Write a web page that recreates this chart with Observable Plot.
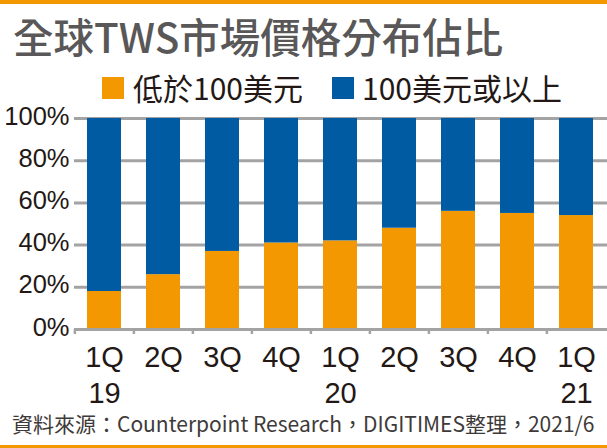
<!DOCTYPE html>
<html>
<head>
<meta charset="utf-8">
<script src="https://cdn.jsdelivr.net/npm/d3@7"></script>
<script src="https://cdn.jsdelivr.net/npm/@observablehq/plot@0.6"></script>
<style>
  html, body { margin: 0; padding: 0; background: #fff; }
  #wrap { position: relative; width: 607px; height: 448px; overflow: hidden; background: #fff; }
  .bar { position: absolute; left: 0; width: 607px; height: 3.5px; background: #F39800; }
  #title { position: absolute; left: 13px; top: 15px; font-family: "Noto Sans CJK TC", "Noto Sans", sans-serif; font-weight: 500; font-size: 40.5px; line-height: 41px; color: #595757; white-space: nowrap; }
  .lg { position: absolute; top: 72px; font-family: "Noto Sans CJK TC", "Liberation Sans", sans-serif; font-size: 30px; line-height: 30px; color: #231815; white-space: nowrap; }
  .sw { position: absolute; top: 77px; width: 22px; height: 22px; }
  #chart { position: absolute; left: 0; top: 108px; }
  #source { position: absolute; left: 12px; top: 411px; font-family: "Noto Sans CJK TC", "Liberation Sans", sans-serif; font-size: 21px; line-height: 25px; color: #3e3a39; white-space: nowrap; }
</style>
</head>
<body>
<div id="wrap">
  <div class="bar" style="top:0"></div>
  <div id="title">全球TWS市場價格分布佔比</div>
  <div id="legend"></div>
  <div id="chart"></div>
  <div id="source">資料來源：Counterpoint Research，DIGITIMES整理，2021/6</div>
  <div class="bar" style="top:444.5px"></div>
</div>
<script>
const quarters = ["1Q19","2Q19","3Q19","4Q19","1Q20","2Q20","3Q20","4Q20","1Q21"];
const tickLabels = ["1Q\n19","2Q","3Q","4Q","1Q\n20","2Q","3Q","4Q","1Q\n21"];
const seriesNames = ["低於100美元","100美元或以上"];
const below100 = [18,26,37,41,42,48,56,55,54];
const above100 = [82,74,63,59,58,52,44,45,46];
const seriesColors = ["#F39800","#005BA2"];
const yTicks = [0,20,40,60,80,100];

const rows = [];
quarters.forEach((q, i) => {
  rows.push({quarter: q, series: seriesNames[0], value: below100[i]});
  rows.push({quarter: q, series: seriesNames[1], value: above100[i]});
});

// legend
const legend = document.getElementById("legend");
const legendX = [[102,133],[332,362]];
seriesNames.forEach((name, i) => {
  const sw = document.createElement("div");
  sw.className = "sw";
  sw.style.left = legendX[i][0] + "px";
  sw.style.background = seriesColors[i];
  legend.appendChild(sw);
  const t = document.createElement("div");
  t.className = "lg";
  t.style.left = legendX[i][1] + "px";
  t.textContent = name;
  legend.appendChild(t);
});

const W = 607, ML = 74, MR = 0;
const halfBand = (W - ML - MR) / quarters.length / 2;
const gridColor = "#a3a3a3";

const chart = Plot.plot({
  width: W,
  height: 300,
  marginLeft: ML,
  marginRight: MR,
  marginTop: 10,
  marginBottom: 79,
  style: {fontFamily: "'Liberation Sans', Arial, sans-serif", color: "#231815", background: "transparent", overflow: "visible"},
  x: {domain: quarters, paddingInner: 0.42, paddingOuter: 0.21, label: null},
  y: {domain: [0, 100], label: null},
  color: {domain: seriesNames, range: seriesColors},
  marks: [
    Plot.ruleY(yTicks.filter(d => d > 0), {y: d => d, stroke: gridColor, strokeWidth: 3}),
    Plot.barY(rows, {x: "quarter", y: "value", fill: "series"}),
    Plot.ruleY([0], {stroke: gridColor, strokeWidth: 3}),
    Plot.axisY({ticks: yTicks, tickFormat: d => d + "%", tickSize: 0, tickPadding: 5, fontSize: 25.5, dy: -2, fill: "#231815"}),
    Plot.axisX({ticks: quarters, tickFormat: () => "", tickSize: 5, dx: -halfBand, stroke: gridColor, strokeWidth: 2.5}),
    Plot.axisX({tickFormat: d => tickLabels[quarters.indexOf(d)], tickSize: 0, tickPadding: 12, fontSize: 29, lineHeight: 1.25, fill: "#231815"})
  ]
});
document.getElementById("chart").appendChild(chart);
</script>
</body>
</html>
